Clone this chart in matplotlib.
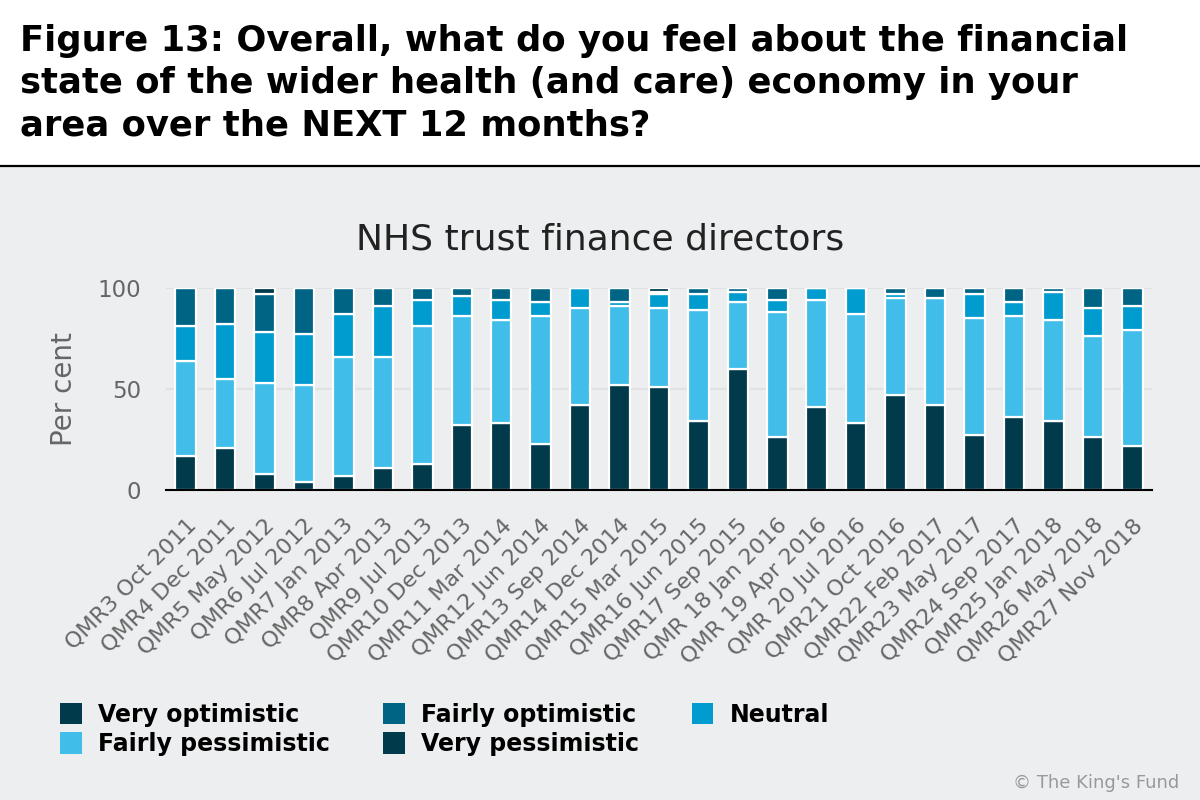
import matplotlib.pyplot as plt
import numpy as np

# survey rounds
rounds = ["QMR3 Oct 2011", "QMR4 Dec 2011", "QMR5 May 2012", "QMR6 Jul 2012",
          "QMR7 Jan 2013", "QMR8 Apr 2013", "QMR9 Jul 2013", "QMR10 Dec 2013",
          "QMR11 Mar 2014", "QMR12 Jun 2014", "QMR13 Sep 2014", "QMR14 Dec 2014",
          "QMR15 Mar 2015", "QMR16 Jun 2015", "QMR17 Sep 2015", "QMR 18 Jan 2016",
          "QMR 19 Apr 2016", "QMR 20 Jul 2016", "QMR21 Oct 2016", "QMR22 Feb 2017",
          "QMR23 May 2017", "QMR24 Sep 2017", "QMR25 Jan 2018", "QMR26 May 2018",
          "QMR27 Nov 2018"]

# per cent of respondents, stacked from the bottom
very_pessimistic = [17, 21, 8, 4, 7, 11, 13, 32, 33, 23, 42, 52, 51, 34, 60, 26, 41, 33, 47, 42, 27, 36, 34, 26, 22]
fairly_pessimistic = [47, 34, 45, 48, 59, 55, 68, 54, 51, 63, 48, 39, 39, 55, 33, 62, 53, 54, 48, 53, 58, 50, 50, 50, 57]
neutral = [17, 27, 25, 25, 21, 25, 13, 10, 10, 7, 10, 2, 7, 8, 5, 6, 6, 13, 2, 0, 12, 7, 14, 14, 12]
fairly_optimistic = [19, 18, 19, 23, 13, 9, 6, 4, 6, 7, 0, 7, 1, 3, 2, 6, 0, 0, 3, 5, 3, 7, 2, 10, 9]
very_optimistic = [0, 0, 3, 0, 0, 0, 0, 0, 0, 0, 0, 0, 2, 0, 0, 0, 0, 0, 0, 0, 0, 0, 0, 0, 0]

bg = "#edeef0"
grey = "#666666"
dark = "#013a4a"

fig = plt.figure(figsize=(12, 8), dpi=100)
fig.patch.set_facecolor(bg)

# white header band with black rule
fig.patches.append(plt.Rectangle((0, 0.7925), 1, 0.2075, transform=fig.transFigure,
                                 facecolor="white", edgecolor="none", zorder=0))
fig.add_artist(plt.Line2D([0, 1], [0.7925, 0.7925], color="black", lw=1.6))

fig.text(0.017, 0.97, "Figure 13: Overall, what do you feel about the financial\n"
         "state of the wider health (and care) economy in your\n"
         "area over the NEXT 12 months?",
         ha="left", va="top", fontsize=25.5, fontweight="bold", linespacing=1.31)

ax = fig.add_axes([0.1383, 0.3875, 0.8217, 0.2525])
ax.set_facecolor(bg)

x = np.arange(len(rounds))
series = [
    ("Very pessimistic", very_pessimistic, dark),
    ("Fairly pessimistic", fairly_pessimistic, "#41bde9"),
    ("Neutral", neutral, "#009ccf"),
    ("Fairly optimistic", fairly_optimistic, "#006485"),
    ("Very optimistic", very_optimistic, dark),
]
bottom = np.zeros(len(rounds))
handles = {}
for name, vals, col in series:
    vals = np.array(vals, dtype=float)
    b = ax.bar(x, vals, bottom=bottom, width=0.52, color=col, edgecolor="white",
               linewidth=1.6, zorder=3, label=name)
    handles[name] = b
    bottom += vals

ax.set_xlim(-0.5, 24.5)
ax.set_ylim(0, 100)
ax.set_yticks([0, 50, 100])
ax.yaxis.grid(True, color="#e0e1e3", lw=1.5, zorder=0)
for s in ["top", "right", "left"]:
    ax.spines[s].set_visible(False)
ax.spines["bottom"].set_color("black")
ax.spines["bottom"].set_linewidth(1.5)
ax.spines["bottom"].set_zorder(4)
ax.tick_params(axis="y", length=0, labelsize=16.5, labelcolor=grey, pad=18)
ax.tick_params(axis="x", length=0, labelsize=16, labelcolor=grey, pad=18)
ax.set_xticks(x)
ax.set_xticklabels(rounds, rotation=45, ha="right", rotation_mode="anchor")
ax.set_ylabel("Per cent", fontsize=20, color=grey, labelpad=14)
fig.text(0.5, 0.7, "NHS trust finance directors", ha="center", va="center",
         fontsize=26, color="#222222")

order = ["Very optimistic", "Fairly pessimistic", "Fairly optimistic", "Very pessimistic", "Neutral"]
leg = fig.legend([handles[n] for n in order], order, ncol=3, loc="lower left",
                 bbox_to_anchor=(0.05, 0.055), frameon=False,
                 prop={"weight": "bold", "size": 17}, handlelength=0.92,
                 handleheight=1.02, handletextpad=0.68, columnspacing=2.25,
                 labelspacing=0.22, borderaxespad=0, borderpad=0)
for h in leg.legend_handles:
    h.set_edgecolor("none")

fig.text(0.983, 0.01, "\u00a9 The King's Fund", ha="right", va="bottom",
         fontsize=13, color="#999999")

fig.savefig("out.png", dpi=100, facecolor=bg)
